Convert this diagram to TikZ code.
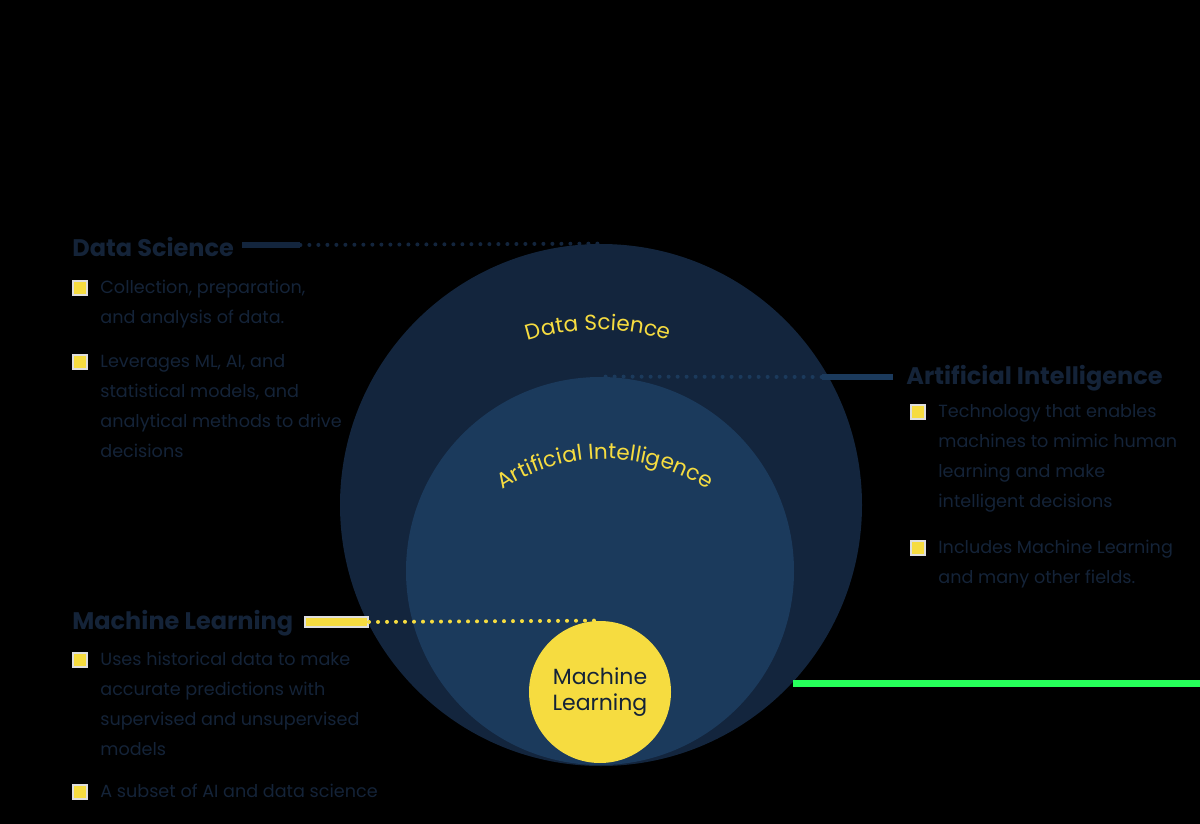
\documentclass[tikz,border=0pt]{standalone}
\usepackage{fontspec}
\setmainfont{Poppins}
\usetikzlibrary{positioning,decorations.text}

\definecolor{navy}{RGB}{20,35,56}
\definecolor{dsblue}{RGB}{19,37,61}
\definecolor{aiblue}{RGB}{27,58,92}
\definecolor{mlyellow}{RGB}{246,220,64}
\definecolor{bordergray}{RGB}{222,222,222}
\definecolor{linegreen}{RGB}{38,255,90}

\tikzset{
  heading/.style={anchor=west,inner sep=0,text=navy,font=\fontsize{12}{14}\selectfont\bfseries},
  bodytext/.style={anchor=north west,inner sep=0,align=left,text=navy,font=\fontsize{8.8}{15}\selectfont},
  bulletbox/.style={draw=bordergray,fill=mlyellow,line width=1pt,minimum size=7pt,inner sep=0},
  bigcircle/.style={circle,inner sep=0,draw=none},
  circlelabel/.style={decorate,decoration={text along path,text align=center,
      text={|\fontsize{10.8}{13}\selectfont\color{mlyellow}|#1}}},
  dots/.style={line width=2pt,line cap=round,dash pattern=on 0pt off 4.5pt},
}

\begin{document}
\begin{tikzpicture}[x=0.5pt,y=-0.5pt]
  \fill[black] (0,0) rectangle (1200,824);
  \useasboundingbox (0,0) rectangle (1200,824);

  % circles
  \node[bigcircle,fill=dsblue,minimum size=261pt] (ds) at (601,505) {};
  \node[bigcircle,fill=aiblue,minimum size=194pt] (ai) at (600,571) {};
  \node[bigcircle,fill=mlyellow,minimum size=71pt,align=center,text=navy,
        font=\fontsize{11}{13}\selectfont] (ml) at (600,692) {Machine\\Learning};

  % curved labels
  \path[circlelabel={Data Science}] (598,570) ++(235:240) arc[start angle=235,end angle=305,radius=240];
  \path[circlelabel={Artificial Intelligence}] (605,645) ++(205:186) arc[start angle=205,end angle=335,radius=186];

  % data science
  \node[heading] (dshead) at (72,247) {Data Science};
  \node[bulletbox] (dsb1) at (80,288) {};
  \node[bodytext] (dst1) at (100,272) {\strut Collection, preparation,\\and analysis of data.};
  \node[bulletbox] (dsb2) at (80,362) {};
  \node[bodytext] (dst2) at (100,346) {\strut Leverages ML, AI, and\\statistical models, and\\analytical methods to drive\\decisions};
  \node[draw=none,fill=dsblue,minimum width=29pt,minimum height=3pt,inner sep=0] (dsbar) at (271,245) {};
  \draw[dots,dsblue] (dsbar.east) -- (ds.north);

  % artificial intelligence
  \node[heading] (aihead) at (906,378) {Artificial Intelligence};
  \node[bulletbox] (aib1) at (918,412) {};
  \node[bodytext] (ait1) at (938,396) {\strut Technology that enables\\machines to mimic human\\learning and make\\intelligent decisions};
  \node[bulletbox] (aib2) at (918,548) {};
  \node[bodytext] (ait2) at (938,532) {\strut Includes Machine Learning\\and many other fields.};
  \node[draw=none,fill=aiblue,minimum width=35.5pt,minimum height=3pt,inner sep=0] (aibar) at (857.5,377) {};
  \draw[dots,aiblue] (aibar.west) -- (ai.north);

  % machine learning
  \node[heading] (mlhead) at (72,623) {Machine Learning};
  \node[bulletbox] (mlb1) at (80,660) {};
  \node[bodytext] (mlt1) at (100,644) {\strut Uses historical data to make\\accurate predictions with\\supervised and unsupervised\\models};
  \node[bulletbox] (mlb2) at (80,792) {};
  \node[bodytext] (mlt2) at (100,776) {\strut A subset of AI and data science};
  \node[draw=bordergray,fill=mlyellow,line width=1pt,minimum width=31.5pt,minimum height=5pt,inner sep=0] (mlbar) at (336.5,622) {};
  \draw[dots,mlyellow] (mlbar.east) -- (ml.north);

  % green line
  \coordinate (gstart) at (793,683);
  \coordinate (gend) at (1200,683);
  \draw[linegreen,line width=3.5pt] (gstart) -- (gend);
\end{tikzpicture}
\end{document}
